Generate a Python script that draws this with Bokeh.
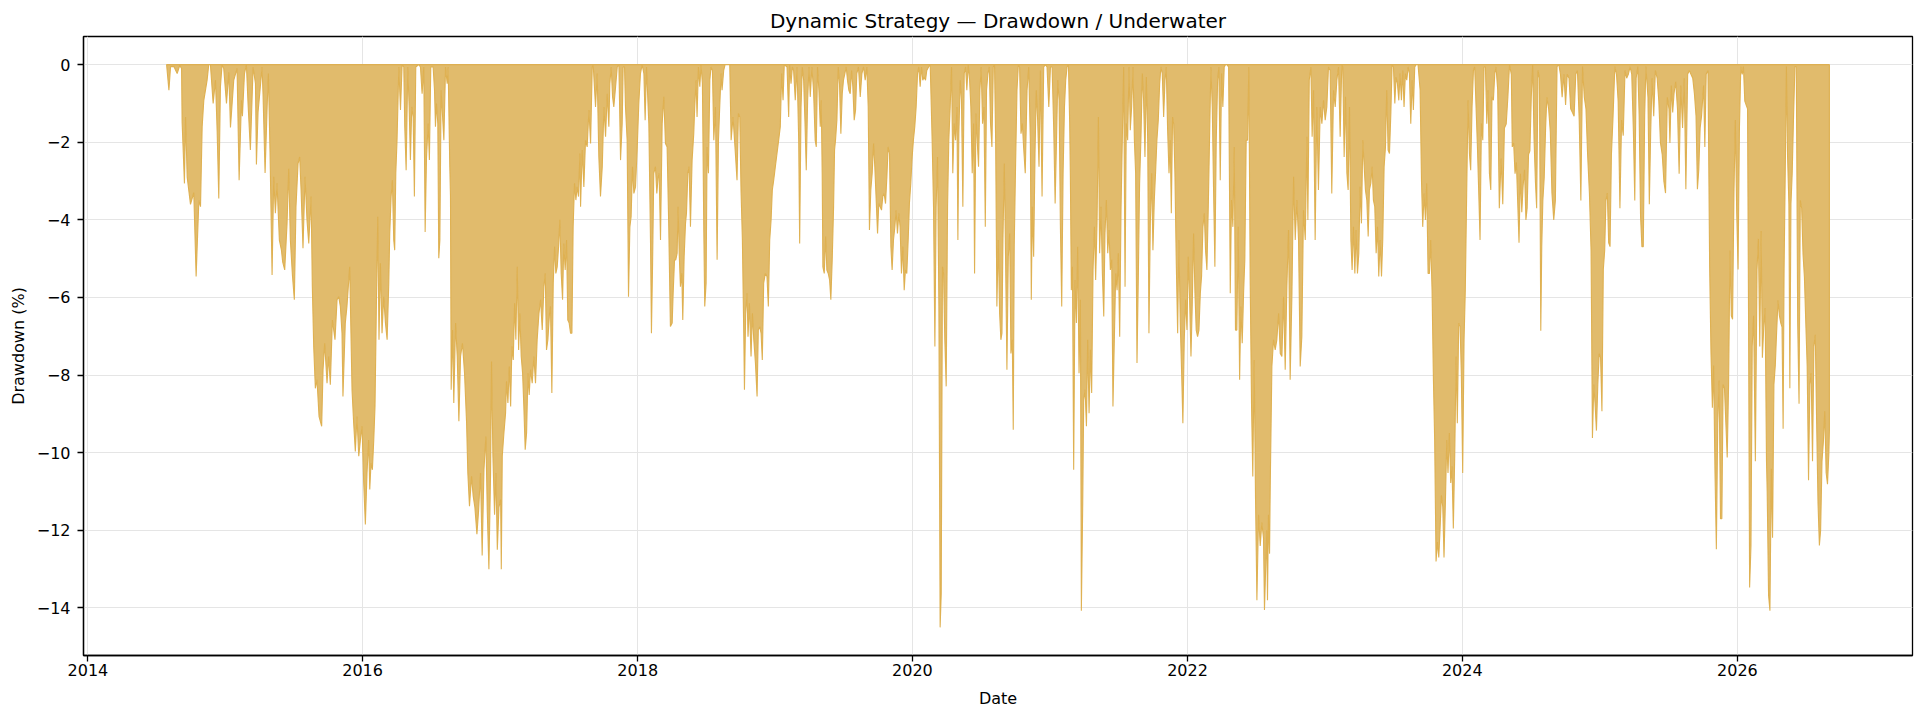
import numpy as np
import pandas as pd
from bokeh.plotting import figure
from bokeh.models import Range1d, FixedTicker, DatetimeTickFormatter
from bokeh.embed import file_html
from bokeh.resources import INLINE

# Drawdown (%) readings: (decimal year, drawdown)
dd_2014_2015 = [
    (2014.573, 0.0), (2014.590, -0.66), (2014.602, -0.05), (2014.626, -0.05), (2014.650, -0.23),
    (2014.669, -0.02), (2014.682, -0.1), (2014.686, -1.48), (2014.703, -3.06), (2014.711, -1.35),
    (2014.723, -2.9), (2014.747, -3.6), (2014.771, -3.3), (2014.788, -5.46), (2014.808, -3.5),
    (2014.820, -3.66), (2014.832, -1.6), (2014.844, -0.92), (2014.868, -0.4), (2014.880, 0.0),
    (2014.892, 0.0), (2014.912, -1.0), (2014.929, -0.4), (2014.941, -1.7), (2014.953, -3.45),
    (2014.965, -0.57), (2014.977, 0.0), (2014.989, -0.1), (2015.009, -1.0), (2015.026, -0.2),
    (2015.038, -1.62), (2015.062, -0.4), (2015.086, -0.1), (2015.101, -2.98), (2015.118, -0.92),
    (2015.125, -1.33), (2015.140, -0.23), (2015.154, 0.0), (2015.166, -1.0), (2015.183, -2.2),
    (2015.203, -0.06), (2015.220, -0.49), (2015.227, -2.57), (2015.239, -1.22), (2015.251, -0.75),
    (2015.268, -0.06), (2015.275, -0.75), (2015.290, -2.79), (2015.305, -1.09), (2015.314, -0.23),
    (2015.326, -2.25), (2015.341, -5.42), (2015.353, -2.89), (2015.365, -3.83), (2015.377, -3.06),
    (2015.394, -4.52), (2015.409, -4.78), (2015.418, -5.08), (2015.433, -5.29), (2015.450, -4.09),
    (2015.462, -2.68), (2015.474, -4.52), (2015.489, -5.42), (2015.503, -6.06), (2015.515, -3.66),
    (2015.530, -2.55), (2015.542, -2.38), (2015.552, -3.23), (2015.566, -4.73), (2015.581, -2.89),
    (2015.595, -4.0), (2015.608, -4.61), (2015.625, -3.4), (2015.634, -5.72), (2015.644, -7.26),
    (2015.656, -8.34), (2015.668, -8.12), (2015.683, -9.07), (2015.702, -9.32), (2015.712, -7.86),
    (2015.724, -7.18), (2015.741, -8.21), (2015.753, -7.52), (2015.765, -8.25), (2015.780, -6.58),
    (2015.799, -7.09), (2015.814, -6.06), (2015.826, -5.98), (2015.838, -6.23), (2015.850, -6.92),
    (2015.857, -8.55), (2015.874, -6.66), (2015.886, -6.23), (2015.906, -5.21), (2015.923, -8.38),
    (2015.935, -9.24), (2015.947, -9.97), (2015.959, -9.07), (2015.972, -10.09), (2015.984, -9.67),
    (2015.996, -9.32),
]

dd_2016_2017 = [
    (2016.008, -10.78), (2016.020, -11.85), (2016.032, -10.52), (2016.044, -9.67), (2016.052, -10.95),
    (2016.061, -10.27), (2016.071, -10.44), (2016.081, -9.67), (2016.090, -8.81), (2016.100, -6.23),
    (2016.110, -3.92), (2016.119, -7.09), (2016.129, -5.12), (2016.141, -6.92), (2016.153, -5.98),
    (2016.166, -6.66), (2016.178, -7.09), (2016.190, -5.63), (2016.197, -4.35), (2016.207, -3.40),
    (2016.216, -2.98), (2016.226, -4.52), (2016.233, -4.78), (2016.241, -2.80), (2016.250, -1.95),
    (2016.263, -0.06), (2016.275, -1.17), (2016.287, 0.0), (2016.299, -0.06), (2016.306, -1.60),
    (2016.316, -2.72), (2016.328, -0.06), (2016.338, -1.09), (2016.347, -2.46), (2016.357, -1.09),
    (2016.367, -1.35), (2016.376, -3.40), (2016.386, -0.06), (2016.408, 0.0), (2016.420, -0.06),
    (2016.432, -0.75), (2016.444, -0.06), (2016.454, -4.31), (2016.464, -2.38), (2016.476, -1.52),
    (2016.485, -2.46), (2016.495, -0.06), (2016.512, -0.06), (2016.522, -0.66), (2016.529, -1.60),
    (2016.536, -1.0), (2016.546, -1.52), (2016.553, -4.99), (2016.561, -4.52), (2016.570, -0.66),
    (2016.590, -1.95), (2016.602, -0.06), (2016.614, -0.49), (2016.621, -0.06), (2016.633, -2.63),
    (2016.638, -3.40), (2016.643, -8.38), (2016.653, -6.84), (2016.662, -8.72), (2016.675, -6.66),
    (2016.687, -7.52), (2016.699, -9.19), (2016.711, -7.52), (2016.725, -7.18), (2016.740, -7.95),
    (2016.755, -9.24), (2016.764, -10.52), (2016.776, -11.38), (2016.791, -10.61), (2016.803, -11.12),
    (2016.815, -11.4), (2016.830, -12.1), (2016.842, -11.5), (2016.856, -10.52), (2016.868, -12.65),
    (2016.881, -10.44), (2016.895, -9.58), (2016.905, -11.5), (2016.917, -13.0), (2016.929, -10.52),
    (2016.936, -7.65), (2016.946, -10.09), (2016.958, -11.6), (2016.968, -10.52), (2016.978, -12.5),
    (2016.990, -11.4), (2017.002, -11.21), (2017.007, -13.0), (2017.014, -10.09), (2017.026, -9.49),
    (2017.038, -8.98), (2017.045, -8.16), (2017.055, -8.72), (2017.065, -7.78), (2017.075, -8.81),
    (2017.084, -7.26), (2017.094, -7.61), (2017.104, -6.15), (2017.113, -7.09), (2017.123, -5.21),
    (2017.133, -7.35), (2017.142, -6.41), (2017.152, -7.52), (2017.162, -7.95), (2017.171, -8.81),
    (2017.181, -9.92), (2017.191, -9.49), (2017.201, -7.95), (2017.210, -8.51), (2017.220, -7.86),
    (2017.232, -8.21), (2017.244, -7.52), (2017.256, -8.21), (2017.268, -7.09), (2017.281, -6.41),
    (2017.293, -6.06), (2017.305, -6.84), (2017.317, -5.72), (2017.327, -5.38), (2017.336, -7.35),
    (2017.346, -7.09), (2017.358, -6.41), (2017.365, -6.23), (2017.375, -8.46), (2017.385, -5.63),
    (2017.395, -4.69), (2017.404, -5.38), (2017.414, -5.21), (2017.424, -4.69), (2017.433, -4.0),
    (2017.443, -5.38), (2017.453, -6.06), (2017.462, -4.61), (2017.472, -5.29), (2017.482, -4.52),
    (2017.491, -6.58), (2017.501, -6.66), (2017.511, -6.92), (2017.521, -6.92), (2017.530, -4.18),
    (2017.540, -3.06), (2017.550, -3.49), (2017.559, -3.15), (2017.569, -3.40), (2017.579, -2.29),
]

dd_2017_2019 = [
    (2017.584, -3.66), (2017.596, -2.20), (2017.608, -3.15), (2017.620, -1.95), (2017.632, -2.12),
    (2017.645, -1.17), (2017.657, -2.03), (2017.669, -0.06), (2017.676, 0.0), (2017.693, -1.09),
    (2017.705, -0.23), (2017.717, -2.38), (2017.729, -3.40), (2017.742, -2.63), (2017.754, -1.09),
    (2017.766, -1.86), (2017.778, -0.75), (2017.790, -1.60), (2017.797, -0.49), (2017.807, -0.06),
    (2017.817, -0.83), (2017.826, -1.09), (2017.839, -0.57), (2017.851, -0.06), (2017.863, 0.0),
    (2017.875, -2.46), (2017.887, -1.52), (2017.894, -0.06), (2017.904, -0.06), (2017.911, -1.09),
    (2017.923, -1.95), (2017.933, -5.98), (2017.943, -4.18), (2017.952, -3.92), (2017.962, -2.63),
    (2017.972, -3.32), (2017.984, -3.15), (2017.996, -2.20), (2018.008, -1.0), (2018.020, -0.23),
    (2018.032, 0.0), (2018.045, -0.23), (2018.054, -1.43), (2018.064, -0.06), (2018.081, -1.52),
    (2018.093, -4.52), (2018.100, -6.92), (2018.108, -5.21), (2018.117, -2.80), (2018.129, -2.63),
    (2018.139, -3.32), (2018.149, -2.89), (2018.156, -2.80), (2018.166, -4.52), (2018.178, -1.52),
    (2018.190, -0.83), (2018.202, -2.03), (2018.214, -2.12), (2018.226, -4.18), (2018.238, -6.75),
    (2018.251, -6.66), (2018.258, -5.89), (2018.268, -5.03), (2018.277, -5.03), (2018.287, -4.86),
    (2018.294, -3.66), (2018.302, -4.86), (2018.311, -5.72), (2018.321, -5.38), (2018.328, -6.58),
    (2018.338, -4.95), (2018.348, -4.09), (2018.355, -3.83), (2018.365, -2.80), (2018.374, -2.63),
    (2018.384, -4.18), (2018.396, -2.46), (2018.408, -1.78), (2018.415, -1.09), (2018.425, -0.40),
    (2018.432, -1.35), (2018.442, -0.06), (2018.452, -0.57), (2018.461, 0.0), (2018.471, -0.49),
    (2018.481, -4.26), (2018.488, -6.23), (2018.498, -5.63), (2018.505, -2.12), (2018.515, -2.80),
    (2018.525, -0.40), (2018.534, -0.06), (2018.544, -0.15), (2018.554, -1.95), (2018.566, -1.09),
    (2018.578, -5.03), (2018.588, -1.95), (2018.597, -1.09), (2018.607, -0.23), (2018.614, -0.66),
    (2018.626, -0.15), (2018.636, 0.0), (2018.651, 0.0), (2018.670, 0.0), (2018.680, -1.95),
    (2018.694, -1.35), (2018.711, -2.29), (2018.723, -2.98), (2018.733, -1.26), (2018.743, -1.35),
    (2018.752, -3.23), (2018.762, -4.52), (2018.772, -6.92), (2018.777, -8.38), (2018.786, -6.41),
    (2018.796, -5.89), (2018.803, -7.01), (2018.813, -6.15), (2018.825, -7.52), (2018.835, -6.41),
    (2018.845, -7.09), (2018.857, -7.69), (2018.869, -8.55), (2018.878, -6.84), (2018.888, -6.75),
    (2018.898, -6.92), (2018.907, -7.61), (2018.917, -5.63), (2018.929, -5.38), (2018.941, -5.46),
    (2018.951, -6.23), (2018.961, -4.52), (2018.971, -4.0), (2018.980, -3.23), (2018.990, -2.98),
    (2019.002, -2.63), (2019.014, -2.29), (2019.026, -1.95), (2019.038, -1.60), (2019.048, -0.23),
    (2019.058, -0.92), (2019.067, 0.0), (2019.087, -0.06), (2019.099, -1.35), (2019.106, 0.0),
    (2019.116, -0.49), (2019.126, -0.06), (2019.135, -0.15), (2019.147, -0.92), (2019.160, -0.06),
    (2019.172, -1.95), (2019.179, -4.61), (2019.189, -1.09), (2019.198, -0.06), (2019.208, -0.40),
    (2019.218, -1.52), (2019.227, -2.72), (2019.237, -0.92), (2019.247, -0.06),
]

dd_2019_2020 = [
    (2019.256, -0.83), (2019.268, -0.06), (2019.280, -0.66), (2019.292, -1.95), (2019.300, -2.12),
    (2019.309, -0.06), (2019.319, -0.66), (2019.329, -1.60), (2019.336, -0.92), (2019.343, -2.80),
    (2019.348, -5.21), (2019.358, -5.38), (2019.368, -4.43), (2019.377, -5.29), (2019.387, -5.38),
    (2019.397, -5.55), (2019.406, -6.06), (2019.416, -5.03), (2019.426, -3.66), (2019.433, -2.20),
    (2019.440, -1.95), (2019.450, -1.43), (2019.460, -0.06), (2019.469, -0.49), (2019.479, -1.78),
    (2019.489, -0.75), (2019.498, -0.40), (2019.508, -0.23), (2019.518, -0.06), (2019.527, -0.40),
    (2019.537, -0.66), (2019.547, -0.75), (2019.557, -0.15), (2019.566, -0.57), (2019.576, -1.43),
    (2019.586, -1.17), (2019.595, -0.23), (2019.607, -0.06), (2019.620, -0.83), (2019.632, -0.23),
    (2019.644, -0.06), (2019.656, -0.40), (2019.668, -0.06), (2019.678, -1.09), (2019.687, -4.26),
    (2019.697, -3.23), (2019.707, -2.80), (2019.717, -2.03), (2019.726, -2.63), (2019.736, -3.49),
    (2019.746, -4.35), (2019.755, -3.58), (2019.765, -3.66), (2019.775, -3.75), (2019.784, -3.40),
    (2019.794, -3.32), (2019.804, -3.58), (2019.814, -2.89), (2019.823, -2.12), (2019.833, -2.29),
    (2019.843, -4.69), (2019.852, -5.29), (2019.862, -4.52), (2019.872, -4.18), (2019.881, -3.75),
    (2019.891, -4.35), (2019.901, -3.83), (2019.910, -4.18), (2019.920, -5.38), (2019.930, -4.69),
    (2019.940, -5.81), (2019.949, -5.29), (2019.959, -5.38), (2019.969, -4.52), (2019.978, -3.58),
    (2019.988, -3.06), (2019.998, -2.38), (2020.007, -1.95), (2020.017, -1.60), (2020.027, -1.09),
    (2020.037, -0.23), (2020.046, -0.06), (2020.056, -0.57), (2020.066, -0.06), (2020.075, -0.40),
    (2020.085, -0.32), (2020.095, -0.40), (2020.104, -0.15), (2020.117, -0.06), (2020.129, 0.0),
    (2020.143, -1.95), (2020.153, -3.66), (2020.163, -7.26), (2020.172, -3.66), (2020.182, -2.38),
    (2020.192, -6.23), (2020.201, -14.5), (2020.209, -13.64), (2020.218, -5.21), (2020.226, -5.38),
    (2020.235, -7.09), (2020.245, -8.29), (2020.255, -3.66), (2020.264, -1.95), (2020.274, -1.09),
    (2020.284, -0.06), (2020.293, -2.80), (2020.303, -1.52), (2020.313, -1.95), (2020.323, -1.09),
    (2020.330, -4.52), (2020.337, -1.78), (2020.347, -0.40), (2020.356, -0.92), (2020.366, -3.66),
    (2020.376, -0.23), (2020.386, -0.06), (2020.395, -0.66), (2020.405, 0.0), (2020.415, -0.40),
    (2020.424, -1.09), (2020.434, -2.80), (2020.444, -1.52), (2020.451, -5.38), (2020.461, -1.26),
    (2020.470, -1.95), (2020.480, -2.63), (2020.490, -0.66), (2020.499, -0.06), (2020.509, -1.52),
    (2020.519, -1.09), (2020.529, -4.18), (2020.538, -0.66), (2020.548, -0.23), (2020.558, -0.06),
    (2020.567, -1.52), (2020.577, -2.12), (2020.587, -0.06), (2020.596, 0.0), (2020.604, -1.95),
    (2020.613, -6.23), (2020.623, -4.52), (2020.633, -6.41), (2020.642, -7.09), (2020.650, -6.92),
    (2020.657, -4.52), (2020.667, -2.55), (2020.676, -4.95), (2020.686, -7.86), (2020.696, -4.95),
    (2020.706, -4.35), (2020.715, -7.44), (2020.725, -7.09), (2020.732, -9.41), (2020.739, -4.69),
    (2020.749, -2.55), (2020.759, -0.66), (2020.769, 0.0), (2020.778, -0.06), (2020.788, -1.78),
    (2020.798, -1.52), (2020.807, -2.12), (2020.819, -2.80), (2020.832, -0.66), (2020.844, -0.06),
    (2020.856, -1.95), (2020.863, -6.06), (2020.870, -3.66), (2020.880, -4.95), (2020.890, -2.29),
    (2020.899, -0.66), (2020.909, -1.43), (2020.919, -2.63),
]

dd_2021_2022 = [
    (2020.929, -0.15), (2020.941, -3.40), (2020.953, -0.06), (2020.965, 0.0), (2020.977, -0.06),
    (2020.990, -1.09), (2021.002, -0.06), (2021.014, -0.06), (2021.026, -1.69), (2021.036, -3.58),
    (2021.045, -2.12), (2021.055, -0.40), (2021.065, -0.92), (2021.074, -4.09), (2021.084, -6.23),
    (2021.094, -2.80), (2021.104, -1.09), (2021.113, -0.40), (2021.123, -0.06), (2021.133, 0.0),
    (2021.142, -1.52), (2021.147, -2.89), (2021.154, -5.81), (2021.162, -5.21), (2021.171, -10.44),
    (2021.181, -5.55), (2021.191, -6.66), (2021.200, -4.69), (2021.210, -7.95), (2021.220, -6.06),
    (2021.227, -14.07), (2021.237, -11.3), (2021.244, -8.64), (2021.254, -8.38), (2021.264, -9.32),
    (2021.273, -7.09), (2021.283, -8.98), (2021.293, -7.35), (2021.302, -8.46), (2021.312, -5.29),
    (2021.322, -4.18), (2021.331, -5.55), (2021.341, -4.09), (2021.351, -1.35), (2021.360, -4.86),
    (2021.370, -3.66), (2021.380, -5.38), (2021.390, -6.49), (2021.399, -4.35), (2021.409, -3.49),
    (2021.419, -4.86), (2021.428, -4.26), (2021.438, -5.29), (2021.448, -5.03), (2021.457, -8.81),
    (2021.467, -7.09), (2021.477, -5.38), (2021.487, -5.81), (2021.496, -4.86), (2021.506, -7.01),
    (2021.516, -3.66), (2021.525, -1.95), (2021.535, -0.06), (2021.545, -5.72), (2021.554, -1.52),
    (2021.564, -1.95), (2021.574, -0.06), (2021.583, -1.69), (2021.593, -1.09), (2021.603, -0.06),
    (2021.613, -1.95), (2021.622, -2.80), (2021.632, -7.69), (2021.642, -5.38), (2021.651, -3.06),
    (2021.661, -1.86), (2021.671, -0.23), (2021.680, -0.92), (2021.690, -2.38), (2021.700, -0.32),
    (2021.710, -1.95), (2021.719, -6.92), (2021.729, -4.09), (2021.739, -2.80), (2021.748, -4.78),
    (2021.758, -3.49), (2021.768, -2.72), (2021.777, -1.95), (2021.787, -1.43), (2021.797, -0.49),
    (2021.806, -0.06), (2021.816, -0.23), (2021.826, -1.35), (2021.836, -0.40), (2021.845, -0.06),
    (2021.855, -1.69), (2021.865, -2.80), (2021.874, -1.95), (2021.882, -3.83), (2021.891, -1.35),
    (2021.899, -1.52), (2021.908, -2.80), (2021.918, -5.12), (2021.928, -6.92), (2021.937, -4.52),
    (2021.947, -6.66), (2021.957, -7.95), (2021.966, -9.24), (2021.976, -7.09), (2021.986, -6.06),
    (2021.996, -6.84), (2022.005, -4.95), (2022.015, -6.06), (2022.025, -7.52), (2022.034, -6.23),
    (2022.044, -4.35), (2022.054, -5.89), (2022.063, -6.84), (2022.073, -7.01), (2022.083, -6.84),
    (2022.093, -5.89), (2022.102, -5.46), (2022.112, -4.18), (2022.122, -3.83), (2022.131, -4.78),
    (2022.141, -5.29), (2022.151, -3.66), (2022.160, -1.95), (2022.170, -0.06), (2022.180, -1.09),
    (2022.189, -3.15), (2022.199, -5.21), (2022.209, -1.95), (2022.219, -0.40), (2022.228, -0.06),
    (2022.238, -2.98), (2022.248, -0.23), (2022.257, -1.09), (2022.267, -0.06), (2022.277, 0.0),
    (2022.286, 0.0), (2022.299, -0.06), (2022.311, -5.89), (2022.320, -3.49), (2022.330, -4.18),
    (2022.340, -2.12), (2022.349, -6.84), (2022.359, -6.84), (2022.369, -4.18), (2022.379, -8.12),
    (2022.388, -6.23), (2022.398, -7.18), (2022.408, -5.89), (2022.417, -5.03), (2022.427, -1.95),
    (2022.437, -1.95), (2022.446, -0.06), (2022.456, -5.55), (2022.466, -8.81), (2022.475, -10.61),
    (2022.485, -7.61), (2022.495, -11.21), (2022.505, -13.8), (2022.517, -11.6), (2022.529, -12.4),
    (2022.541, -11.8), (2022.553, -12.2), (2022.560, -14.05), (2022.577, -12.0), (2022.582, -13.8),
    (2022.589, -11.6), (2022.597, -12.6),
]

dd_2022_2024 = [
    (2022.602, -10.87), (2022.614, -7.78), (2022.626, -7.09), (2022.638, -7.35), (2022.650, -7.09),
    (2022.663, -6.41), (2022.675, -7.44), (2022.687, -7.52), (2022.699, -5.98), (2022.711, -7.86),
    (2022.723, -5.72), (2022.735, -4.26), (2022.747, -8.12), (2022.760, -5.89), (2022.772, -2.89),
    (2022.784, -4.52), (2022.796, -3.49), (2022.808, -4.52), (2022.820, -7.78), (2022.832, -7.01),
    (2022.844, -3.75), (2022.857, -4.52), (2022.869, -1.86), (2022.876, -4.0), (2022.886, -0.40),
    (2022.898, -0.06), (2022.907, -1.86), (2022.917, -0.66), (2022.929, -4.52), (2022.941, -1.09),
    (2022.953, -3.23), (2022.966, -1.09), (2022.978, -1.52), (2022.990, -0.92), (2023.002, -1.43),
    (2023.014, -1.09), (2023.026, -0.06), (2023.038, -0.15), (2023.050, -3.32), (2023.063, -0.66),
    (2023.075, -1.09), (2023.087, -0.40), (2023.099, -0.06), (2023.111, -1.86), (2023.123, 0.0),
    (2023.130, -0.06), (2023.140, -2.38), (2023.150, -0.83), (2023.160, -2.80), (2023.169, -3.23),
    (2023.179, -1.09), (2023.189, -4.52), (2023.198, -5.29), (2023.208, -4.18), (2023.218, -5.38),
    (2023.227, -4.26), (2023.237, -5.38), (2023.247, -4.86), (2023.256, -3.15), (2023.266, -4.09),
    (2023.276, -1.95), (2023.286, -2.63), (2023.295, -3.23), (2023.305, -3.49), (2023.315, -4.43),
    (2023.324, -3.23), (2023.334, -3.06), (2023.344, -2.63), (2023.353, -3.49), (2023.363, -3.66),
    (2023.373, -4.86), (2023.383, -4.18), (2023.392, -5.46), (2023.402, -4.52), (2023.412, -5.46),
    (2023.421, -4.52), (2023.431, -2.63), (2023.441, -2.12), (2023.450, -0.66), (2023.460, -2.20),
    (2023.470, -2.29), (2023.480, -1.26), (2023.489, 0.0), (2023.499, -0.06), (2023.509, -1.0),
    (2023.518, -0.32), (2023.528, -0.49), (2023.538, -0.92), (2023.547, -0.23), (2023.557, -0.92),
    (2023.567, -0.15), (2023.576, -1.09), (2023.586, -0.23), (2023.596, -0.40), (2023.606, -0.06),
    (2023.615, -0.23), (2023.625, -1.52), (2023.635, -0.40), (2023.644, -1.17), (2023.654, -0.06),
    (2023.664, 0.0), (2023.678, 0.0), (2023.693, -0.66), (2023.703, -2.98), (2023.712, -4.18),
    (2023.722, -3.32), (2023.732, -4.0), (2023.741, -3.06), (2023.751, -5.38), (2023.761, -5.38),
    (2023.770, -4.52), (2023.780, -5.81), (2023.790, -8.12), (2023.799, -9.67), (2023.809, -12.8),
    (2023.819, -12.3), (2023.829, -12.7), (2023.838, -12.0), (2023.848, -11.1), (2023.858, -11.4),
    (2023.867, -12.7), (2023.877, -11.3), (2023.887, -9.67), (2023.896, -10.52), (2023.906, -9.49),
    (2023.916, -10.78), (2023.925, -10.35), (2023.935, -11.95), (2023.945, -10.09), (2023.955, -7.52),
    (2023.964, -9.24), (2023.974, -6.66), (2023.984, -6.75), (2023.993, -7.95), (2024.003, -10.52),
    (2024.013, -7.09), (2024.022, -5.81), (2024.032, -3.32), (2024.042, -0.92), (2024.052, -2.29),
    (2024.061, -2.72), (2024.071, -1.09), (2024.081, -0.15), (2024.090, -0.06), (2024.100, -1.09),
    (2024.110, -2.12), (2024.119, -3.23), (2024.129, -4.52), (2024.139, -1.52), (2024.149, -1.95),
    (2024.158, -0.06), (2024.168, -0.06), (2024.178, -1.52), (2024.187, -0.66), (2024.197, -2.80),
    (2024.207, -3.23), (2024.216, -0.83), (2024.226, -0.92), (2024.236, -0.23), (2024.245, -0.06),
]

dd_2024_2026 = [
    (2024.257, -0.64), (2024.269, -3.70), (2024.282, -2.42), (2024.294, -3.60), (2024.306, -1.63),
    (2024.319, -1.53), (2024.331, -0.84), (2024.343, 0.0), (2024.356, -0.25), (2024.363, -2.12),
    (2024.373, -2.02), (2024.383, -2.81), (2024.393, -2.52), (2024.402, -3.50), (2024.412, -4.59),
    (2024.422, -2.81), (2024.432, -3.80), (2024.442, -3.11), (2024.452, -2.71), (2024.462, -4.0),
    (2024.471, -3.70), (2024.481, -2.32), (2024.491, -2.22), (2024.501, -0.84), (2024.511, 0.0),
    (2024.521, -1.92), (2024.531, -3.01), (2024.540, -3.70), (2024.550, -0.15), (2024.560, -0.35),
    (2024.570, -6.86), (2024.577, -4.69), (2024.585, -3.50), (2024.595, -2.91), (2024.605, -1.63),
    (2024.614, -0.84), (2024.627, -1.14), (2024.639, -1.73), (2024.651, -3.31), (2024.664, -4.0),
    (2024.676, -3.50), (2024.688, -0.05), (2024.701, 0.0), (2024.713, -0.25), (2024.725, -0.84),
    (2024.738, -0.25), (2024.750, -1.04), (2024.762, -0.25), (2024.775, -0.35), (2024.787, -1.14),
    (2024.799, -1.23), (2024.812, -1.33), (2024.824, -0.25), (2024.836, -0.15), (2024.849, -1.43),
    (2024.861, -3.50), (2024.873, -0.05), (2024.886, -0.84), (2024.898, -1.14), (2024.910, -2.32),
    (2024.923, -3.31), (2024.935, -4.79), (2024.945, -9.62), (2024.955, -8.24), (2024.964, -8.74),
    (2024.974, -9.43), (2024.984, -8.24), (2024.994, -7.45), (2025.004, -7.55), (2025.014, -8.93),
    (2025.024, -5.28), (2025.034, -4.79), (2025.043, -3.50), (2025.053, -3.31), (2025.063, -4.59),
    (2025.073, -4.69), (2025.083, -2.32), (2025.095, -1.33), (2025.108, -0.05), (2025.120, -0.25),
    (2025.132, -0.94), (2025.145, -3.70), (2025.157, -1.43), (2025.169, -1.83), (2025.182, -0.15),
    (2025.194, -0.35), (2025.206, -0.25), (2025.219, -0.05), (2025.231, -0.25), (2025.243, -1.73),
    (2025.253, -3.50), (2025.263, -0.35), (2025.275, -0.05), (2025.285, -1.33), (2025.295, -3.90),
    (2025.305, -4.69), (2025.315, -4.69), (2025.325, -1.33), (2025.334, -0.05), (2025.349, -0.84),
    (2025.359, -3.60), (2025.369, -1.73), (2025.379, -0.35), (2025.391, -1.33), (2025.403, -0.15),
    (2025.416, -0.35), (2025.428, -0.94), (2025.440, -2.02), (2025.453, -2.32), (2025.465, -3.01),
    (2025.477, -3.31), (2025.490, -0.84), (2025.502, -1.14), (2025.509, -2.02), (2025.519, -0.54),
    (2025.529, -1.23), (2025.539, -0.74), (2025.551, -0.44), (2025.564, -1.14), (2025.576, -2.81),
    (2025.588, -0.54), (2025.601, -1.63), (2025.613, -0.35), (2025.625, -3.21), (2025.638, -0.25),
    (2025.650, -0.15), (2025.662, -0.25), (2025.675, -0.35), (2025.687, -0.74), (2025.699, -1.33),
    (2025.709, -3.21), (2025.719, -2.71), (2025.729, -1.63), (2025.739, -1.33), (2025.754, -0.54),
    (2025.763, -2.12), (2025.773, -0.25), (2025.786, -0.15), (2025.798, -5.18), (2025.808, -7.45),
    (2025.818, -8.84), (2025.827, -7.75), (2025.837, -10.51), (2025.847, -12.49), (2025.857, -9.23),
    (2025.867, -8.14), (2025.877, -11.70), (2025.887, -11.70), (2025.896, -8.24), (2025.906, -8.34),
    (2025.916, -9.23), (2025.926, -10.12), (2025.936, -8.24), (2025.946, -4.79), (2025.956, -6.47),
    (2025.965, -6.56), (2025.975, -3.31), (2025.985, -1.43), (2025.995, -3.80), (2026.005, -5.28),
    (2026.015, -1.63), (2026.025, -0.05), (2026.035, -0.25), (2026.044, -0.05), (2026.054, -0.94),
    (2026.064, -1.04), (2026.074, -1.14), (2026.081, -6.27), (2026.089, -13.47), (2026.099, -12.39),
    (2026.108, -7.26), (2026.118, -6.47), (2026.131, -10.22), (2026.143, -5.28), (2026.153, -4.49),
    (2026.163, -7.26), (2026.173, -4.29), (2026.182, -7.55), (2026.192, -6.76), (2026.202, -6.27),
    (2026.212, -10.22), (2026.217, -11.01), (2026.227, -13.67), (2026.237, -14.07), (2026.247, -10.41),
    (2026.256, -12.19), (2026.266, -8.24), (2026.276, -7.75), (2026.286, -6.86), (2026.296, -6.07),
    (2026.306, -6.47), (2026.316, -6.66), (2026.325, -6.76), (2026.333, -9.38), (2026.340, -5.28),
    (2026.350, -2.32), (2026.357, -0.05), (2026.365, -2.32), (2026.375, -3.60), (2026.382, -8.34),
    (2026.390, -3.60), (2026.399, -2.81), (2026.409, -1.33), (2026.419, -0.05), (2026.429, -0.05),
    (2026.439, -6.66), (2026.449, -8.74), (2026.458, -3.50), (2026.468, -3.70), (2026.478, -4.89),
    (2026.488, -5.48), (2026.498, -6.66), (2026.508, -7.75), (2026.518, -10.71), (2026.528, -8.24),
    (2026.537, -7.95), (2026.547, -10.22), (2026.557, -7.26), (2026.567, -6.96), (2026.577, -9.23),
    (2026.587, -11.30), (2026.597, -12.39), (2026.606, -12.0), (2026.616, -10.22), (2026.626, -9.72),
    (2026.636, -8.93), (2026.646, -10.51), (2026.656, -10.81), (2026.666, -10.02), (2026.670, -9.43),
]

y_ticks = [0, -2, -4, -6, -8, -10, -12, -14]
x_tick_years = [2014, 2016, 2018, 2020, 2022, 2024, 2026]

TITLE = "Dynamic Strategy \u2014 Drawdown / Underwater"
FONT = "DejaVu Sans"


def to_datetime(decimal_years):
    out = []
    for d in decimal_years:
        y = int(np.floor(d))
        start = pd.Timestamp(year=y, month=1, day=1)
        end = pd.Timestamp(year=y + 1, month=1, day=1)
        out.append(start + (end - start) * (d - y))
    return pd.DatetimeIndex(out)


readings = (dd_2014_2015 + dd_2016_2017 + dd_2017_2019 + dd_2019_2020
            + dd_2021_2022 + dd_2022_2024 + dd_2024_2026)
years = np.array([r[0] for r in readings])
dd = np.array([r[1] for r in readings])
dates = to_datetime(years)

# axis limits with matplotlib-like 5% margins
span_x = years[-1] - years[0]
x0 = to_datetime([years[0] - 0.05 * span_x])[0]
x1 = to_datetime([years[-1] + 0.05 * span_x])[0]
y_lo, y_hi = float(dd.min()), 0.0
pad_y = 0.05 * (y_hi - y_lo)

p = figure(width=1921, height=715, x_axis_type="datetime",
           output_backend="svg", toolbar_location=None,
           x_range=Range1d(x0, x1), y_range=Range1d(y_lo - pad_y, y_hi + pad_y),
           min_border_left=83, min_border_right=9, min_border_top=36, min_border_bottom=60)

p.title.text = TITLE
p.title.align = "center"
p.title.text_font = FONT
p.title.text_font_size = "20px"
p.title.text_font_style = "normal"
p.title.text_color = "#000000"
p.title.standoff = 8

# filled underwater area (polygon down from 0 to the drawdown curve)
xs = np.concatenate([dates.values, dates.values[::-1]])
ys = np.concatenate([dd, np.zeros_like(dd)])
p.patch(xs, ys, fill_color="#E1BB6C", fill_alpha=1.0,
        line_color="#DDAE4C", line_width=1.1, line_alpha=0.95)

tick_ms = [pd.Timestamp(year=y, month=1, day=1).value / 1e6 for y in x_tick_years]
p.xaxis.ticker = FixedTicker(ticks=tick_ms)
p.xaxis.formatter = DatetimeTickFormatter(years="%Y", months="%Y", days="%Y",
                                          hours="%Y", minutes="%Y", seconds="%Y")
p.yaxis.ticker = FixedTicker(ticks=y_ticks)
p.yaxis.major_label_overrides = {t: (("\u2212" + str(-t)) if t < 0 else str(t)) for t in y_ticks}

p.xaxis.axis_label = "Date"
p.yaxis.axis_label = "Drawdown (%)"

for ax in (p.xaxis[0], p.yaxis[0]):
    ax.axis_label_text_font = FONT
    ax.axis_label_text_font_size = "16px"
    ax.axis_label_text_font_style = "normal"
    ax.axis_label_text_color = "#000000"
    ax.major_label_text_font = FONT
    ax.major_label_text_font_size = "16px"
    ax.major_label_text_color = "#000000"
    ax.axis_line_color = "#000000"
    ax.axis_line_width = 1.3
    ax.major_tick_line_color = "#000000"
    ax.major_tick_line_width = 1.3
    ax.major_tick_out = 6
    ax.major_tick_in = 0
    ax.minor_tick_line_color = None

p.xaxis.major_label_standoff = 2
p.yaxis.major_label_standoff = 7
p.xaxis.axis_label_standoff = 10
p.yaxis.axis_label_standoff = 6

p.outline_line_color = "#000000"
p.outline_line_width = 1.3
p.outline_line_alpha = 1.0

p.xgrid.grid_line_color = "#e5e5e5"
p.ygrid.grid_line_color = "#e5e5e5"
p.xgrid.grid_line_width = 1
p.ygrid.grid_line_width = 1
p.background_fill_color = "#ffffff"
p.border_fill_color = "#ffffff"

open("out.html", "w").write(file_html(p, INLINE))
